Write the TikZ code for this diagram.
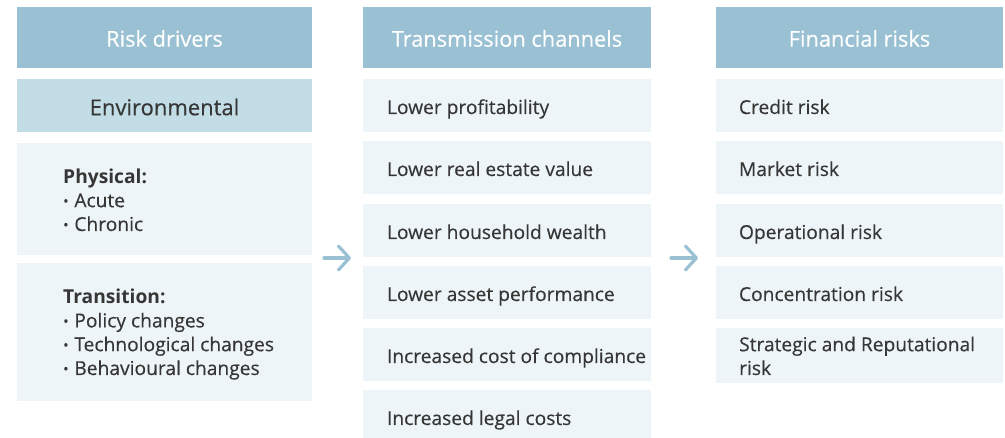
\documentclass[tikz,border=0pt]{standalone}
\usepackage{fontspec}
\setmainfont{Open Sans}[FakeBold=0.35, BoldFeatures={FakeBold=0}]
\usetikzlibrary{arrows.meta}
\definecolor{hdrblue}{HTML}{9AC1D3}
\definecolor{envblue}{HTML}{C2DDE6}
\definecolor{lightbox}{HTML}{EDF5F8}
\definecolor{txt}{HTML}{363636}
\tikzset{
  hdrbox/.style={fill=hdrblue, inner sep=0pt, minimum height=61pt},
  envbox/.style={fill=envblue, inner sep=0pt, minimum height=53pt},
  itembox/.style={fill=lightbox, inner sep=0pt, minimum height=53pt},
  hdrtext/.style={text=white, inner sep=0pt, font=\fontsize{21.8}{24}\selectfont},
  envtext/.style={text=txt, inner sep=0pt, font=\fontsize{22}{24}\selectfont},
  itemtext/.style={text=txt, inner sep=0pt, anchor=base west, align=left, font=\fontsize{19.2}{23.8}\selectfont},
  flowarrow/.style={draw=hdrblue, line width=3.2pt, line cap=round, -{Straight Barb[length=11pt, width=24pt, line width=3.2pt, round]}}
}
\newcommand{\bul}{\raisebox{0.1ex}{\scalebox{0.75}{•}}\hspace{0.3em}}
\begin{document}
\begin{tikzpicture}[x=1pt, y=-1pt]
\useasboundingbox (0,0) rectangle (1005,438);
% column 1
\node[hdrbox, minimum width=295pt] (h1) at (164.5,37.5) {};
\node[hdrtext] (h1t) at ([yshift=-1pt]h1.center) {Risk drivers};
\node[envbox, minimum width=295pt] (env) at (164.5,105.5) {};
\node[envtext] (envt) at ([yshift=-1.5pt]env.center) {Environmental};
\node[itembox, minimum width=295pt, minimum height=112pt] (phys) at (164.5,199) {};
\node[itemtext] (physt) at (63,231) {\textbf{Physical:}\\\bul Acute\\\bul Chronic};
\node[itembox, minimum width=295pt, minimum height=138pt] (trans) at (164.5,332) {};
\node[itemtext] (transt) at (63,375) {\textbf{Transition:}\\\bul Policy changes\\\bul Technological changes\\\bul Behavioural changes};
% column 2
\node[hdrbox, minimum width=288pt] (h2) at (507,37.5) {};
\node[hdrtext] (h2t) at ([yshift=-1pt]h2.center) {Transmission channels};
\node[itembox, minimum width=288pt] (c1) at (507,105.5) {};
\node[itembox, minimum width=288pt] (c2) at (507,167.5) {};
\node[itembox, minimum width=288pt] (c3) at (507,230.5) {};
\node[itembox, minimum width=288pt] (c4) at (507,292.5) {};
\node[itembox, minimum width=288pt] (c5) at (507,354.5) {};
\node[itembox, minimum width=288pt, minimum height=48pt] (c6) at (507,414) {};
\node[itemtext] (c1t) at ([xshift=24pt,yshift=-8.5pt]c1.west) {Lower profitability};
\node[itemtext] (c2t) at ([xshift=24pt,yshift=-8.5pt]c2.west) {Lower real estate value};
\node[itemtext] (c3t) at ([xshift=24pt,yshift=-8.5pt]c3.west) {Lower household wealth};
\node[itemtext] (c4t) at ([xshift=24pt,yshift=-8.5pt]c4.west) {Lower asset performance};
\node[itemtext] (c5t) at ([xshift=24pt,yshift=-8.5pt]c5.west) {Increased cost of compliance};
\node[itemtext] (c6t) at ([xshift=24pt,yshift=-11pt]c6.west) {Increased legal costs};
% column 3
\node[hdrbox, minimum width=287pt] (h3) at (859.5,37.5) {};
\node[hdrtext] (h3t) at ([yshift=-1pt]h3.center) {Financial risks};
\node[itembox, minimum width=287pt] (r1) at (859.5,105.5) {};
\node[itembox, minimum width=287pt] (r2) at (859.5,167.5) {};
\node[itembox, minimum width=287pt] (r3) at (859.5,230.5) {};
\node[itembox, minimum width=287pt] (r4) at (859.5,292.5) {};
\node[itembox, minimum width=287pt, minimum height=55pt] (r5) at (859.5,355.5) {};
\node[itemtext] (r1t) at ([xshift=23pt,yshift=-8.5pt]r1.west) {Credit risk};
\node[itemtext] (r2t) at ([xshift=23pt,yshift=-8.5pt]r2.west) {Market risk};
\node[itemtext] (r3t) at ([xshift=23pt,yshift=-8.5pt]r3.west) {Operational risk};
\node[itemtext] (r4t) at ([xshift=23pt,yshift=-8.5pt]r4.west) {Concentration risk};
\node[itemtext] (r5t) at (739,375) {Strategic and Reputational\\risk};
% arrows
\coordinate (a1s) at (324,258);
\coordinate (a1e) at (351,258);
\coordinate (a2s) at (671,258);
\coordinate (a2e) at (698,258);
\draw[flowarrow] (a1s) -- (a1e);
\draw[flowarrow] (a2s) -- (a2e);
\end{tikzpicture}
\end{document}
